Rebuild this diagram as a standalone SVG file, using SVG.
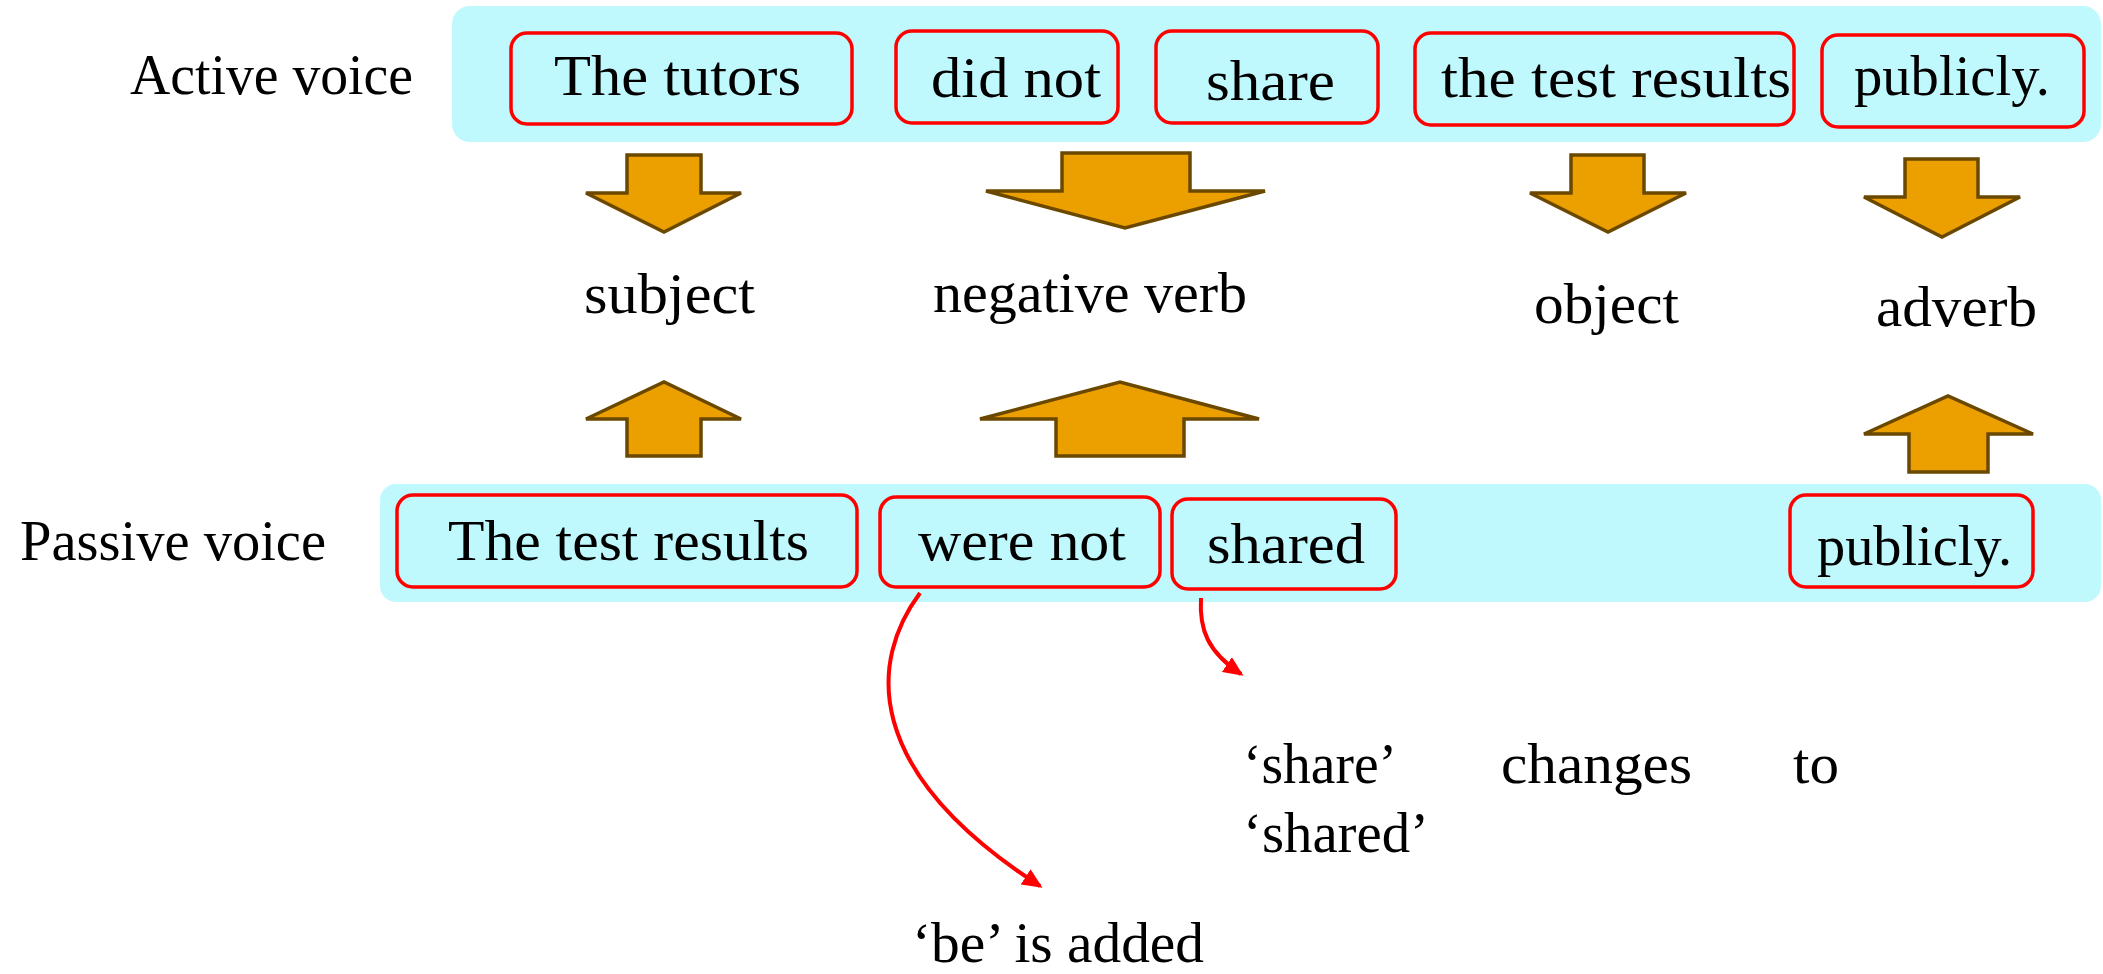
<svg xmlns="http://www.w3.org/2000/svg" width="2103" height="974" viewBox="0 0 2103 974">
<style>
.t{font-family:"Liberation Serif","DejaVu Serif",serif;font-size:57px;fill:#000}
.band{fill:#C0F9FD}
.box{fill:none;stroke:#FF0000;stroke-width:3.5}
.arr{fill:#EBA000;stroke:#6B4800;stroke-width:3.5;stroke-linejoin:miter}
.con{fill:none;stroke:#FF0000;stroke-width:4}
</style>
<defs>
<marker id="ah" markerUnits="userSpaceOnUse" markerWidth="22" markerHeight="18" refX="17" refY="9" orient="auto">
<path d="M0,0 L20,9 L0,18 Z" fill="#FF0000"/>
</marker>
</defs>
<rect width="2103" height="974" fill="#FFFFFF"/>
<g id="active-row">
<rect class="band" x="452" y="6" width="1649" height="136" rx="18"/>
<text class="t" x="130" y="94" textLength="283" lengthAdjust="spacingAndGlyphs">Active voice</text>
</g>
<g id="a-tutors"><rect class="box" x="511" y="33" width="341" height="91" rx="16"/><text class="t" x="554" y="95" textLength="247" lengthAdjust="spacingAndGlyphs">The tutors</text></g>
<g id="a-didnot"><rect class="box" x="896" y="31" width="222" height="92" rx="16"/><text class="t" x="931" y="97" textLength="170" lengthAdjust="spacingAndGlyphs">did not</text></g>
<g id="a-share"><rect class="box" x="1156" y="31" width="222" height="92" rx="16"/><text class="t" x="1206" y="100" textLength="129" lengthAdjust="spacingAndGlyphs">share</text></g>
<g id="a-results"><rect class="box" x="1415" y="33" width="379" height="92" rx="16"/><text class="t" x="1441" y="97" textLength="350" lengthAdjust="spacingAndGlyphs">the test results</text></g>
<g id="a-publicly"><rect class="box" x="1822" y="35" width="262" height="92" rx="16"/><text class="t" x="1854" y="95" textLength="196" lengthAdjust="spacingAndGlyphs">publicly.</text></g>

<g id="passive-row">
<rect class="band" x="380" y="484" width="1721" height="118" rx="16"/>
<text class="t" x="20" y="560" textLength="306" lengthAdjust="spacingAndGlyphs">Passive voice</text>
</g>
<g id="p-results"><rect class="box" x="397" y="495" width="460" height="92" rx="16"/><text class="t" x="448" y="560" textLength="361" lengthAdjust="spacingAndGlyphs">The test results</text></g>
<g id="p-werenot"><rect class="box" x="880" y="497" width="280" height="90" rx="16"/><text class="t" x="918" y="560" textLength="208" lengthAdjust="spacingAndGlyphs">were not</text></g>
<g id="p-shared"><rect class="box" x="1172" y="499" width="224" height="90" rx="16"/><text class="t" x="1207" y="563" textLength="158" lengthAdjust="spacingAndGlyphs">shared</text></g>
<g id="p-publicly"><rect class="box" x="1790" y="495" width="243" height="92" rx="16"/><text class="t" x="1817" y="565" textLength="195" lengthAdjust="spacingAndGlyphs">publicly.</text></g>

<g id="labels">
<text class="t" x="584" y="313" textLength="171" lengthAdjust="spacingAndGlyphs">subject</text>
<text class="t" x="933" y="312" textLength="314" lengthAdjust="spacingAndGlyphs">negative verb</text>
<text class="t" x="1534" y="323" textLength="145" lengthAdjust="spacingAndGlyphs">object</text>
<text class="t" x="1876" y="326" textLength="161" lengthAdjust="spacingAndGlyphs">adverb</text>
</g>

<g id="block-arrows">
<polygon class="arr" points="627,155 701,155 701,193 741,193 664,232 586,193 627,193"/>
<polygon class="arr" points="1062,153 1190,153 1190,191 1265,191 1125,228 986,191 1062,191"/>
<polygon class="arr" points="1571,155 1644,155 1644,193 1686,193 1608,232 1530,193 1571,193"/>
<polygon class="arr" points="1905,159 1978,159 1978,197 2020,197 1942,237 1864,197 1905,197"/>
<polygon class="arr" points="627,456 701,456 701,419 741,419 664,382 586,419 627,419"/>
<polygon class="arr" points="1056,456 1184,456 1184,419 1259,419 1120,382 980,419 1056,419"/>
<polygon class="arr" points="1909,472 1988,472 1988,434 2033,434 1948,396 1864,434 1909,434"/>
</g>

<g id="connectors">
<path class="con" d="M920,593 C870,660 860,770 1040,886" marker-end="url(#ah)"/>
<path class="con" d="M1201,598 C1199,630 1208,652 1241,674" marker-end="url(#ah)"/>
</g>

<g id="note-be"><text class="t" x="912" y="962" textLength="292" lengthAdjust="spacingAndGlyphs">‘be’ is added</text></g>
<g id="note-shared">
<text class="t" x="1243" y="783" textLength="154" lengthAdjust="spacingAndGlyphs">‘share’</text>
<text class="t" x="1501" y="783" textLength="191" lengthAdjust="spacingAndGlyphs">changes</text>
<text class="t" x="1793" y="783" textLength="46" lengthAdjust="spacingAndGlyphs">to</text>
<text class="t" x="1243" y="852" textLength="186" lengthAdjust="spacingAndGlyphs">‘shared’</text>
</g>
</svg>
